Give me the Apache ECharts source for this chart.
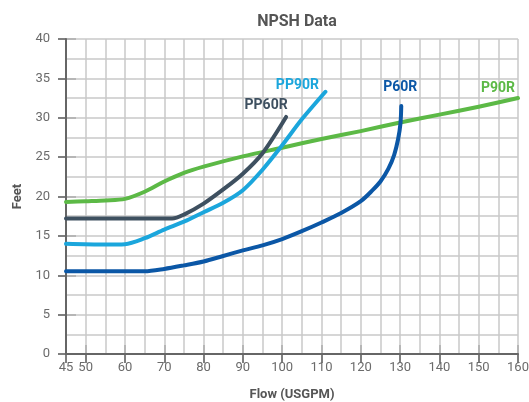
<!DOCTYPE html>
<html>
<head>
<meta charset="utf-8">
<script src="https://cdn.jsdelivr.net/npm/echarts@6/dist/echarts.min.js"></script>
<style>
html,body{margin:0;padding:0;background:#fff;}
#chart{width:529px;height:402px;}
</style>
</head>
<body>
<div id="chart"></div>
<script>
const P90R = [[45,19.3],[50,19.4],[55,19.5],[60,19.7],[65,20.6],[70,21.9],[75,23.0],[80,23.8],[90,25.1],[100,26.2],[110,27.3],[120,28.3],[130,29.4],[140,30.4],[150,31.4],[160,32.5]];
const PP60R = [[45,17.2],[55,17.2],[65,17.2],[72,17.2],[75,17.7],[80,19.1],[85,20.9],[90,22.9],[95,25.5],[101,30.1]];
const PP90R = [[45,14.0],[55,13.9],[60,13.95],[65,14.7],[70,15.8],[75,16.8],[80,18.0],[85,19.2],[90,20.8],[95,23.4],[100,26.5],[105,29.8],[111,33.3]];
const P60R = [[45,10.5],[55,10.5],[65,10.5],[70,10.8],[75,11.25],[80,11.75],[85,12.45],[90,13.15],[95,13.8],[100,14.6],[105,15.6],[110,16.7],[115,17.9],[120,19.4],[123,20.8],[125,21.9],[127,23.5],[128.5,25.3],[129.5,27.3],[130.1,29.3],[130.3,31.5]];
const seriesNames = ['P90R','PP60R','PP90R','P60R'];
const xLabelValues = [45,50,60,70,80,90,100,110,120,130,140,150,160];
const yLabelValues = [0,5,10,15,20,25,30,35,40];

const colors = {P90R:'#5cb946', PP60R:'#3e5060', PP90R:'#1ba6dc', P60R:'#0b57a6'};
const labelOffsets = {P90R:[-20,-10], PP60R:[-20,-11], PP90R:[-28,-6], P60R:[-1,-18]};
const dataMap = {P90R, PP60R, PP90R, P60R};

function makeSeries(name){
  const arr = dataMap[name];
  const data = arr.map((p,i)=> i===arr.length-1 ? {value:p, label:{show:true, formatter:name, position:'inside', offset:labelOffsets[name], color:colors[name], fontSize:14, fontWeight:'bold', fontFamily:'Roboto'}} : {value:p});
  return {
    name, type:'line', data, smooth:0.3, xAxisIndex:0, yAxisIndex:0,
    showSymbol:true, symbol:'circle', symbolSize:0,
    lineStyle:{color:colors[name], width:4, cap:'round', join:'round'},
    itemStyle:{color:colors[name]},
    emphasis:{disabled:true}, silent:true, z:3
  };
}

const chart = echarts.init(document.getElementById('chart'));
const tickStyle = {color:'#555', width:1.5};
const hidden = {axisLine:{show:false}, axisLabel:{show:false}, splitLine:{show:false}};
chart.setOption({
  animation:false,
  backgroundColor:'#fff',
  title:{text:'NPSH Data', left:292, top:9, textAlign:'center',
    textStyle:{fontSize:16, fontWeight:'bold', color:'#555', fontFamily:'Roboto'}},
  grid:[
    {left:66, right:11, top:39, bottom:48, containLabel:false, outerBoundsMode:'none'},
    {left:85.65, right:11, top:39, bottom:48, containLabel:false, outerBoundsMode:'none'}
  ],
  xAxis:[{
    gridIndex:0, type:'value', min:45, max:160, interval:5,
    name:'Flow (USGPM)', nameLocation:'middle', nameGap:34,
    nameTextStyle:{fontSize:13, fontWeight:'bold', color:'#555', fontFamily:'Roboto'},
    axisLine:{show:true, lineStyle:{color:'#666', width:2}},
    axisTick:{show:false},
    axisLabel:{customValues:xLabelValues, margin:7, color:'#6b6b6b', fontSize:13, fontFamily:'Roboto'},
    splitLine:{show:true, lineStyle:{color:'#c9c9c9', width:1.5}},
    z:2
  },{
    gridIndex:0, type:'value', min:45, max:160, interval:115, position:'bottom',
    axisTick:{show:true, length:9, lineStyle:tickStyle}, ...hidden
  },{
    gridIndex:1, type:'value', min:50, max:160, interval:10, position:'bottom',
    axisTick:{show:true, length:9, lineStyle:tickStyle}, ...hidden
  },{
    gridIndex:1, type:'value', min:50, max:160, interval:10, position:'bottom',
    axisTick:{show:true, inside:true, length:9, lineStyle:tickStyle}, ...hidden
  }],
  yAxis:[{
    gridIndex:0, type:'value', min:0, max:40, interval:2.5,
    name:'Feet', nameLocation:'middle', nameGap:38, nameRotate:90,
    nameTextStyle:{fontSize:13, fontWeight:'bold', color:'#555', fontFamily:'Roboto'},
    axisLine:{show:true, lineStyle:{color:'#666', width:2}},
    axisTick:{show:false},
    axisLabel:{customValues:yLabelValues, margin:16, color:'#6b6b6b', fontSize:13, fontFamily:'Roboto'},
    splitLine:{show:true, lineStyle:{color:'#c9c9c9', width:1.5}},
    z:2
  },{
    gridIndex:0, type:'value', min:0, max:40, interval:5, position:'left',
    axisTick:{show:true, length:8, lineStyle:tickStyle}, ...hidden
  },{
    gridIndex:0, type:'value', min:0, max:40, interval:5, position:'left',
    axisTick:{show:true, inside:true, length:10, lineStyle:tickStyle}, ...hidden
  },{
    gridIndex:1, type:'value', min:0, max:40, interval:5, show:false
  }],
  series: seriesNames.map(makeSeries)
});
</script>
</body>
</html>
